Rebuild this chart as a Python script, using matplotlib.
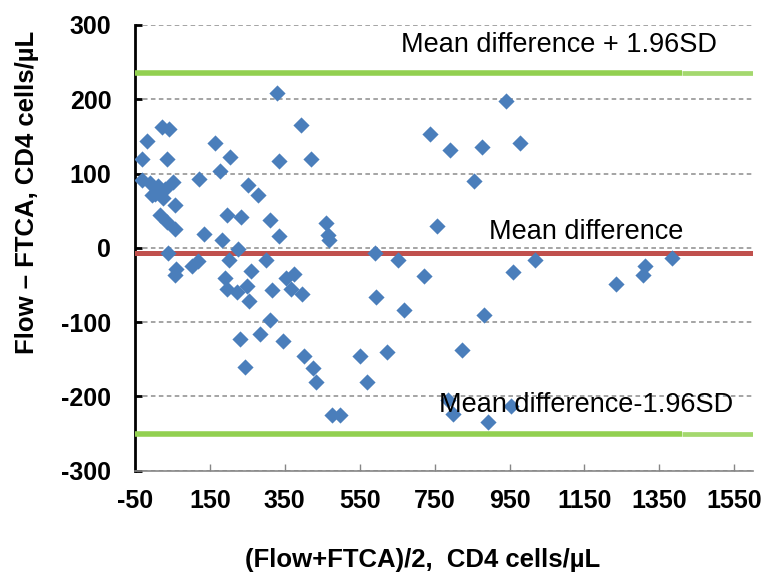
import matplotlib
matplotlib.use('Agg')
import matplotlib.pyplot as plt

plt.rcParams['font.family'] = ['Liberation Sans', 'DejaVu Sans']
plt.rcParams['axes.unicode_minus'] = False

# Bland-Altman data: average of the two methods vs difference (Flow - FTCA)
avg_cd4 = [330, 23, 41, -19, 163, 392, -32, 35, 203, 335, 419, 177, 121, -32,
           -10, 52, 3, 25, 57, -5, 11, 30, 252, 279, 17, 35, 57, 196, 232, 310,
           335, 461, 465, 467, 134, 182, 225, 39, 201, 301, 59, 58, 101, 119,
           261, 190, 353, 375, 197, 223, 249, 315, 366, 395, 254, 310, 230,
           283, 345, 401, 425, 434, 243, 477, 498, 941, 737, 792, 877, 979,
           855, 757, 590, 652, 722, 593, 667, 881, 959, 1017, 552, 569, 623,
           824, 785, 799, 892, 953, 1234, 1307, 1313, 1385]
diff_cd4 = [209, 163, 160, 144, 141, 165, 120, 119, 122, 117, 120, 104, 93, 91,
            87, 89, 73, 67, 58, 71, 83, 79, 85, 71, 44, 35, 25, 44, 42, 37,
            16, 34, 17, 11, 18, 11, -1, -7, -17, -16, -29, -36, -25, -18,
            -31, -40, -40, -35, -55, -59, -51, -57, -56, -62, -71, -97, -123,
            -116, -125, -145, -162, -181, -161, -225, -225, 198, 153, 132, 136,
            141, 90, 30, -7, -16, -38, -66, -84, -90, -33, -17, -146, -180,
            -140, -138, -205, -223, -235, -213, -49, -36, -24, -13]

mean_diff = -7
upper_loa = 236
lower_loa = -250

x_ticks = [-50, 150, 350, 550, 750, 950, 1150, 1350, 1550]
y_ticks = [-300, -200, -100, 0, 100, 200, 300]

fig = plt.figure(figsize=(7.66, 5.8), dpi=100)
ax = fig.add_axes([0.1762, 0.1884, 0.8068, 0.7685])

ax.set_xlim(-50, 1600)
ax.set_ylim(-300, 300)

# reference lines (the limit lines turn a lighter green near the right end)
ax.axhline(mean_diff, color='#C0504D', lw=3.6, zorder=3)
for loa in (upper_loa, lower_loa):
    ax.hlines(loa, -50, 1410, color='#92D050', lw=4, zorder=3)
    ax.hlines(loa, 1410, 1600, color='#A4D86E', lw=3.4, zorder=3)

ax.scatter(avg_cd4, diff_cd4, marker='D', s=68, color='#4A7EBB',
           linewidths=0, zorder=4)

ax.set_xticks(x_ticks)
ax.set_yticks(y_ticks)
ax.yaxis.grid(True, color='#8C8C8C', lw=1.1, linestyle=(0, (3, 2.2)), zorder=1)
ax.set_axisbelow(True)

for side in ['top', 'right']:
    ax.spines[side].set_visible(False)
ax.spines['left'].set_color('black')
ax.spines['left'].set_linewidth(2)
ax.spines['bottom'].set_color('#868686')
ax.spines['bottom'].set_linewidth(1.2)

ax.tick_params(axis='y', direction='in', length=5, width=2, color='black',
               pad=17, labelsize=18)
ax.tick_params(axis='x', direction='in', length=5, width=1, color='#868686',
               pad=13, labelsize=18)
for lab in ax.get_xticklabels() + ax.get_yticklabels():
    lab.set_fontweight('bold')

ax.text(1081, 273, 'Mean difference + 1.96SD', fontsize=19.5,
        ha='center', va='center', zorder=5)
ax.text(1155, 22, 'Mean difference', fontsize=19.5,
        ha='center', va='center', zorder=5)
ax.text(1155, -211, 'Mean difference-1.96SD', fontsize=19.5,
        ha='center', va='center', zorder=5)

fig.text(423 / 766, 1 - 560 / 580, '(Flow+FTCA)/2,  CD4 cells/\u00b5L',
         fontsize=18.5, fontweight='bold', ha='center', va='center')
fig.text(27 / 766, 1 - 192 / 580, 'Flow \u2013 FTCA, CD4 cells/\u00b5L',
         fontsize=18.5, fontweight='bold', ha='center', va='center',
         rotation=90)

fig.savefig('out.png', dpi=100)
